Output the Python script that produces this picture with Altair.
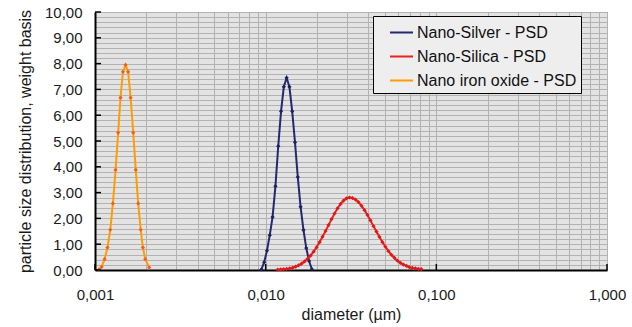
import altair as alt
import pandas as pd

# Particle size distributions (weight basis) on a log diameter grid, in µm
silver_d = [0.009437, 0.009800, 0.010177, 0.010568, 0.010974, 0.011411, 0.011849,
            0.012304, 0.012776, 0.013267, 0.013776, 0.014306, 0.014856, 0.015427,
            0.016019, 0.016656, 0.017296, 0.017961, 0.018651]
silver_v = [0.02, 0.30, 0.75, 1.35, 2.05, 3.25, 4.80, 6.15, 7.10, 7.45, 7.10,
            6.15, 4.95, 3.60, 2.45, 1.55, 0.85, 0.35, 0.03]

silica_d = [0.01175, 0.01224, 0.01274, 0.01327, 0.01382, 0.01439, 0.01498, 0.01560,
            0.01624, 0.01691, 0.01761, 0.01833, 0.01909, 0.01988, 0.02070, 0.02154,
            0.02243, 0.02336, 0.02432, 0.02533, 0.02637, 0.02746, 0.02859, 0.02977,
            0.03100, 0.03227, 0.03361, 0.03499, 0.03644, 0.03794, 0.03950, 0.04113,
            0.04283, 0.04459, 0.04642, 0.04833, 0.05032, 0.05240, 0.05456, 0.05681,
            0.05915, 0.06159, 0.06413, 0.06678, 0.06953, 0.07240, 0.07539, 0.07850,
            0.08173]
silica_v = [0.01, 0.02, 0.03, 0.04, 0.06, 0.09, 0.13, 0.18, 0.25, 0.33, 0.44, 0.56,
            0.71, 0.88, 1.08, 1.29, 1.51, 1.74, 1.97, 2.19, 2.39, 2.56, 2.69, 2.78,
            2.81, 2.79, 2.73, 2.63, 2.49, 2.32, 2.13, 1.92, 1.70, 1.49, 1.28, 1.08,
            0.90, 0.73, 0.59, 0.47, 0.36, 0.28, 0.21, 0.16, 0.11, 0.08, 0.06, 0.04,
            0.03]

iron_d = [0.001055, 0.001094, 0.001138, 0.001183, 0.001229, 0.001273, 0.001320,
          0.001367, 0.001411, 0.001458, 0.001510, 0.001564, 0.001617, 0.001675,
          0.001733, 0.001791, 0.001853, 0.001909, 0.001969, 0.002078]
iron_v = [0.02, 0.12, 0.42, 0.87, 1.56, 2.58, 3.88, 5.32, 6.68, 7.68, 7.95, 7.68,
          6.68, 5.32, 3.88, 2.58, 1.56, 0.87, 0.42, 0.10]

series_names = ["Nano-Silver - PSD", "Nano-Silica - PSD", "Nano iron oxide - PSD"]
line_colors = ["#24296f", "#e8231f", "#ff9c00"]
marker_colors = ["#1c2160", "#e01a1a", "#f0601a"]

# Axis ticks: decades labelled, 2..9 multiples as minor grid lines
x_grid_values = [0.001, 0.002, 0.003, 0.004, 0.005, 0.006, 0.007, 0.008, 0.009,
                 0.01, 0.02, 0.03, 0.04, 0.05, 0.06, 0.07, 0.08, 0.09,
                 0.1, 0.2, 0.3, 0.4, 0.5, 0.6, 0.7, 0.8, 0.9, 1.0]
x_label_values = [0.001, 0.01, 0.1, 1.0]
y_grid_values = [0.0, 0.2, 0.4, 0.6, 0.8, 1.0, 1.2, 1.4, 1.6, 1.8, 2.0, 2.2, 2.4,
                 2.6, 2.8, 3.0, 3.2, 3.4, 3.6, 3.8, 4.0, 4.2, 4.4, 4.6, 4.8, 5.0,
                 5.2, 5.4, 5.6, 5.8, 6.0, 6.2, 6.4, 6.6, 6.8, 7.0, 7.2, 7.4, 7.6,
                 7.8, 8.0, 8.2, 8.4, 8.6, 8.8, 9.0, 9.2, 9.4, 9.6, 9.8, 10.0]
y_label_values = [0, 1, 2, 3, 4, 5, 6, 7, 8, 9, 10]

rows = []
for name, ds, vs in [(series_names[0], silver_d, silver_v),
                     (series_names[1], silica_d, silica_v),
                     (series_names[2], iron_d, iron_v)]:
    for d, v in zip(ds, vs):
        rows.append({"series": name, "diameter": d, "psd": v})
df = pd.DataFrame(rows)

W, H = 512, 258
FONT = "Liberation Sans"

xscale = alt.Scale(type="log", domain=[0.001, 1.0], nice=False)
yscale = alt.Scale(domain=[0, 10], nice=False, zero=True)

x_label_expr = ("indexof([0.001, 0.01, 0.1, 1], datum.value) >= 0 ? "
                "replace(format(datum.value, '.3f'), '.', ',') : ''")
y_label_expr = ("abs(datum.value - round(datum.value)) < 0.001 ? "
                "replace(format(datum.value, '.2f'), '.', ',') : ''")

x_axis = alt.Axis(values=x_grid_values, labelExpr=x_label_expr,
                  title="diameter (µm)", ticks=False, labelOverlap=False,
                  labelFlush=False, labelPadding=17, titlePadding=4)
y_axis = alt.Axis(values=y_grid_values, labelExpr=y_label_expr,
                  title="particle size distribution, weight basis",
                  ticks=False, labelOverlap=False, labelPadding=13,
                  titlePadding=11)

curves = alt.Chart(df).mark_line(strokeWidth=2).encode(
    x=alt.X("diameter:Q", scale=xscale, axis=x_axis),
    y=alt.Y("psd:Q", scale=yscale, axis=y_axis),
    color=alt.Color("series:N",
                    scale=alt.Scale(domain=series_names, range=line_colors),
                    legend=alt.Legend(
                        title=None, orient="none", legendX=278, legendY=4,
                        symbolType="stroke", symbolSize=529, symbolStrokeWidth=2,
                        symbolOffset=12, labelOffset=3, labelFontSize=16,
                        labelFont=FONT, labelColor="#111111", rowPadding=3,
                        padding=4, fillColor="#eeeeee", strokeColor="#000000",
                        labelLimit=300)),
)

# Small diamond markers at each measured point
markers = alt.Chart(df).mark_point(shape="diamond", filled=True, size=18, opacity=1).encode(
    x=alt.X("diameter:Q", scale=xscale, axis=x_axis),
    y=alt.Y("psd:Q", scale=yscale, axis=y_axis),
    fill=alt.Fill("series:N",
                  scale=alt.Scale(domain=series_names, range=marker_colors),
                  legend=None),
)

# Short inward tick marks on the left and bottom axes
y_ticks = alt.Chart(pd.DataFrame({"psd": y_label_values})).mark_rule(
    color="#000000", strokeWidth=1.5
).encode(
    y=alt.Y("psd:Q", scale=yscale, axis=y_axis),
    x=alt.value(0), x2=alt.value(6),
)
x_ticks = alt.Chart(pd.DataFrame({"diameter": x_label_values})).mark_rule(
    color="#000000", strokeWidth=1.5
).encode(
    x=alt.X("diameter:Q", scale=xscale, axis=x_axis),
    y=alt.value(H), y2=alt.value(H - 6),
)

chart = alt.layer(curves, markers, y_ticks, x_ticks).properties(
    width=W, height=H,
    autosize=alt.AutoSizeParams(type="none"),
    padding={"left": 95, "top": 12, "right": 25, "bottom": 57},
).configure_view(
    fill="#e3e3e3", stroke="#707070", strokeWidth=1,
).configure_axis(
    labelFont=FONT, titleFont=FONT, labelFontSize=15, titleFontSize=16,
    labelColor="#1a1a1a", titleColor="#1a1a1a", titleFontWeight="normal",
    gridColor="#b2b2b2", gridWidth=1, gridOpacity=1,
    domainColor="#000000", domainWidth=2,
)

chart.save("out.html", embed_options={"renderer": "svg", "actions": False})
